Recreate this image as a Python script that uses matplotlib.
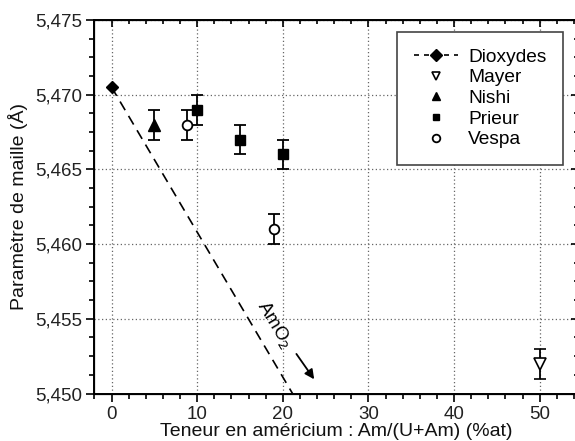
import numpy as np
import matplotlib
matplotlib.use("Agg")
import matplotlib.pyplot as plt
from matplotlib.lines import Line2D
from matplotlib.ticker import MultipleLocator, FuncFormatter

plt.rcParams['font.family'] = ['Liberation Sans', 'DejaVu Sans']

# Dioxydes (U,Am)O2 line: UO2 point and direction to AmO2
diox_x = [0, 100]
diox_y = [5.4705, 5.3735]

mayer_x = [50]
mayer_y = [5.452]
mayer_err = [0.001]

nishi_x = [5]
nishi_y = [5.468]
nishi_err = [0.001]

prieur_x = [10, 15, 20]
prieur_y = [5.469, 5.467, 5.466]
prieur_err = [0.001, 0.001, 0.001]

vespa_x = [8.8, 19]
vespa_y = [5.468, 5.461]
vespa_err = [0.001, 0.001]


def comma(v, pos):
    return f"{v:.3f}".replace(".", ",")


def main():
    fig = plt.figure(figsize=(5.75, 4.41), dpi=100)
    ax = fig.add_axes([0.1643, 0.1077, 0.8412, 0.847])

    # dioxydes line, only the UO2 end carries a marker
    ax.plot(diox_x, diox_y, color='k', ls=(0, (6, 4)), lw=1.2, zorder=3)
    ax.plot(diox_x[:1], diox_y[:1], 'D', color='k', ms=6.5, zorder=4)

    eb = dict(color='k', ecolor='k', elinewidth=1.3, capsize=4.5,
              capthick=1.3, ls='none', zorder=5)
    ax.errorbar(mayer_x, mayer_y, yerr=mayer_err, marker='v', ms=8.5,
                mfc='white', mec='k', mew=1.2, **eb)
    ax.errorbar(nishi_x, nishi_y, yerr=nishi_err, marker='^', ms=8.5, **eb)
    ax.errorbar(prieur_x, prieur_y, yerr=prieur_err, marker='s', ms=6.5,
                **eb)
    ax.errorbar(vespa_x, vespa_y, yerr=vespa_err, marker='o', ms=7,
                mfc='white', mec='k', mew=1.3, **eb)

    # AmO2 annotation
    ax.text(19.0, 5.4546, "AmO$_2$", rotation=-59, fontsize=13.5,
            ha='center', va='center')
    ax.annotate("", xy=(23.85, 5.4508), xytext=(21.4, 5.4528),
                arrowprops=dict(arrowstyle='-|>', color='k', lw=1.3,
                                mutation_scale=14))

    ax.set_xlim(-2, 54.5)
    ax.set_ylim(5.450, 5.475)
    ax.xaxis.set_major_locator(MultipleLocator(10))
    ax.xaxis.set_minor_locator(MultipleLocator(2))
    ax.yaxis.set_major_locator(MultipleLocator(0.005))
    ax.yaxis.set_minor_locator(MultipleLocator(0.00125))
    ax.yaxis.set_major_formatter(FuncFormatter(comma))
    ax.tick_params(which='major', direction='out', length=6, width=1.2,
                   labelsize=13.5, colors='k', labelcolor='#222222', pad=3)
    ax.tick_params(which='minor', direction='out', length=3.5, width=1.2)
    ax.grid(True, which='major', ls=(0, (1, 2)), color='#666666', lw=0.9)
    for s in ax.spines.values():
        s.set_linewidth(1.4)

    # top and right axes carry inward ticks
    top = ax.twiny()
    top.set_xlim(ax.get_xlim())
    top.xaxis.set_major_locator(MultipleLocator(10))
    top.xaxis.set_minor_locator(MultipleLocator(2))
    top.tick_params(which='major', direction='in', length=5, width=1.2,
                    labeltop=False)
    top.tick_params(which='minor', direction='in', length=3, width=1.2)
    right = ax.twinx()
    right.set_ylim(ax.get_ylim())
    right.yaxis.set_major_locator(MultipleLocator(0.005))
    right.yaxis.set_minor_locator(MultipleLocator(0.00125))
    right.tick_params(which='major', direction='in', length=5, width=1.2,
                      labelright=False)
    right.tick_params(which='minor', direction='in', length=3, width=1.2)

    ax.set_xlabel("Teneur en américium : Am/(U+Am) (%at)", fontsize=14,
                  labelpad=0, color='#111111')
    ax.set_ylabel("Paramètre de maille (Å)", fontsize=14, labelpad=5,
                  color='#111111')

    handles = [
        Line2D([], [], color='k', ls=(0, (3, 3)), lw=1.2, marker='D', ms=6),
        Line2D([], [], ls='none', marker='v', ms=6, mfc='white', mec='k',
               mew=1.2),
        Line2D([], [], ls='none', marker='^', ms=6, color='k'),
        Line2D([], [], ls='none', marker='s', ms=5, color='k'),
        Line2D([], [], ls='none', marker='o', ms=5.5, mfc='white', mec='k',
               mew=1.3),
    ]
    labels = ['Dioxydes', 'Mayer', 'Nishi', 'Prieur', 'Vespa']
    leg = right.legend(handles, labels, loc='upper left',
                       bbox_to_anchor=(0.626, 0.968), fontsize=13.8,
                       frameon=True, fancybox=False, edgecolor='#444444',
                       framealpha=1, handlelength=2.3, labelspacing=0.17,
                       borderpad=0.85, handletextpad=0.55, borderaxespad=0)
    leg.get_frame().set_linewidth(1.2)

    plt.savefig("out.png", dpi=100)
    plt.close()


if __name__ == "__main__":
    main()
